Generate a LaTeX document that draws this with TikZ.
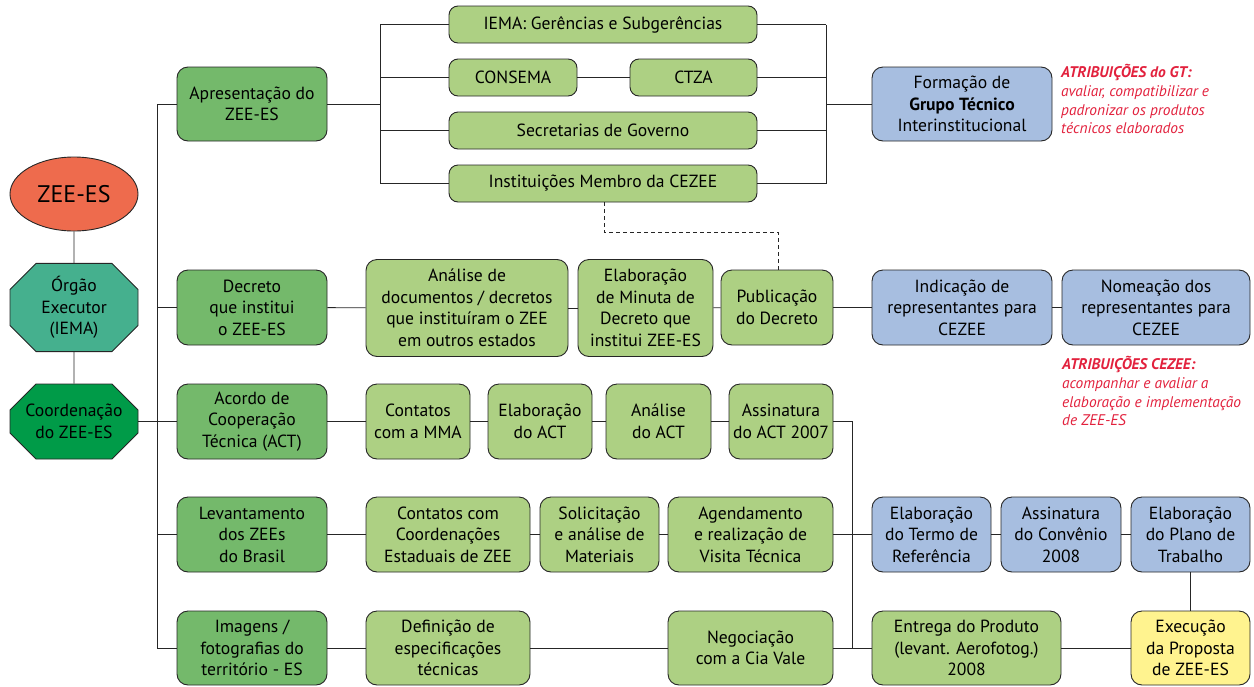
\documentclass[tikz,border=0pt]{standalone}
\usepackage{fontspec}
\setmainfont{PT Sans}
\usetikzlibrary{shapes.geometric,shapes.misc}
\definecolor{cOrange}{HTML}{EE6B4D}
\definecolor{cTeal}{HTML}{45B08E}
\definecolor{cDark}{HTML}{009B48}
\definecolor{cMid}{HTML}{74B96B}
\definecolor{cLight}{HTML}{ADD083}
\definecolor{cBlue}{HTML}{A7BEE0}
\definecolor{cYellow}{HTML}{FFF38F}
\definecolor{cRed}{HTML}{E2213D}
\newcommand{\fsMain}{\fontsize{17.6}{21.5}\selectfont}
\begin{document}
\begin{tikzpicture}[x=1pt,y=-1pt,
  base/.style={draw=black!85, line width=0.9pt, align=center, inner sep=0pt, font=\fsMain, text=black},
  box/.style={base, rounded corners=11pt},
  mid/.style={box, fill=cMid},
  light/.style={box, fill=cLight},
  blue/.style={box, fill=cBlue},
  yel/.style={box, fill=cYellow},
  octo/.style={base, chamfered rectangle, chamfered rectangle xsep=13pt, chamfered rectangle ysep=13pt, minimum width=128pt, minimum height=75pt},
  wh/.style 2 args={minimum width=#1pt, minimum height=#2pt},
  ln/.style={draw=black!85, line width=0.9pt},
  redtxt/.style={text=cRed, align=left, anchor=north west, inner sep=0pt, font=\fontsize{15.4}{18.8}\selectfont\itshape}
]
\useasboundingbox (0,0) rectangle (1254,686);

% left column
\node[base, ellipse, fill=cOrange, wh={128}{74}, font=\fontsize{24}{28}\selectfont] (zee) at (74,194) {ZEE-ES};
\node[octo, fill=cTeal] (org) at (74,307.5) {Órgão\\Executor\\(IEMA)};
\node[octo, fill=cDark] (coord) at (74,421.5) {Coordenação\\do ZEE-ES};

% second column
\node[mid, wh={150}{74}] (apr) at (252,104) {Apresentação do\\ZEE-ES};
\node[mid, wh={150}{75}] (dec) at (252,307.5) {Decreto\\que institui\\o ZEE-ES};
\node[mid, wh={150}{75}] (aco) at (252,421.5) {Acordo de\\Cooperação\\Técnica (ACT)};
\node[mid, wh={150}{75}] (lev) at (252,534.5) {Levantamento\\dos ZEEs\\do Brasil};
\node[mid, wh={150}{74}] (img) at (252,648) {Imagens /\\fotografias do\\território - ES};

% Apresentacao group
\node[light, wh={308}{37}, rounded corners=9pt] (iema) at (603,24.5) {IEMA: Gerências e Subgerências};
\node[light, wh={128}{37}, rounded corners=9pt] (consema) at (513,77.5) {CONSEMA};
\node[light, wh={127}{37}, rounded corners=9pt] (ctza) at (693.5,77.5) {CTZA};
\node[light, wh={308}{37}, rounded corners=9pt] (sec) at (603,130.5) {Secretarias de Governo};
\node[light, wh={308}{37}, rounded corners=9pt] (inst) at (603,183.5) {Instituições Membro da CEZEE};
\node[blue, wh={180}{74}] (form) at (962,104) {Formação de\\\textbf{Grupo Técnico}\\Interinstitucional};
\node[redtxt] (gt) at (1061,64) {\textbf{ATRIBUIÇÕES do GT:}\\avaliar, compatibilizar e\\padronizar os produtos\\técnicos elaborados};

% Decreto row
\node[light, wh={202}{97}] (anal) at (467,308) {Análise de\\documentos / decretos\\que instituíram o ZEE\\em outros estados};
\node[light, wh={135}{97}] (elab) at (645.5,308) {Elaboração\\de Minuta de\\Decreto que\\institui ZEE-ES};
\node[light, wh={112}{75}] (pub) at (777,307.5) {Publicação\\do Decreto};
\node[blue, wh={180}{75}] (ind) at (962,307.5) {Indicação de\\representantes para\\CEZEE};
\node[blue, wh={188}{75}] (nom) at (1156,307.5) {Nomeação dos\\representantes para\\CEZEE};
\node[redtxt] (cz) at (1062,356) {\textbf{ATRIBUIÇÕES CEZEE:}\\acompanhar e avaliar a\\elaboração e implementação\\de ZEE-ES};

% Acordo row
\node[light, wh={104}{75}] (mma) at (418,421.5) {Contatos\\com a MMA};
\node[light, wh={104}{75}] (eact) at (540,421.5) {Elaboração\\do ACT};
\node[light, wh={105}{75}] (aact) at (658.5,421.5) {Análise\\do ACT};
\node[light, wh={104}{75}] (sact) at (781,421.5) {Assinatura\\do ACT 2007};

% Levantamento row
\node[light, wh={164}{75}] (ccoord) at (448,534.5) {Contatos com\\Coordenações\\Estaduais de ZEE};
\node[light, wh={119}{75}] (sol) at (599.5,534.5) {Solicitação\\e análise de\\Materiais};
\node[light, wh={165}{75}] (age) at (750.5,534.5) {Agendamento\\e realização de\\Visita Técnica};
\node[blue, wh={119}{75}] (termo) at (931.5,534.5) {Elaboração\\do Termo de\\Referência};
\node[blue, wh={120}{75}] (conv) at (1061,534.5) {Assinatura\\do Convênio\\2008};
\node[blue, wh={119}{75}] (plano) at (1190.5,534.5) {Elaboração\\do Plano de\\Trabalho};

% Imagens row
\node[light, wh={164}{74}] (def) at (448,648) {Definição de\\especificações\\técnicas};
\node[light, wh={165}{74}] (neg) at (750.5,648) {Negociação\\com a Cia Vale};
\node[light, wh={189}{74}] (ent) at (966.5,648) {Entrega do Produto\\(levant. Aerofotog.)\\2008};
\node[yel, wh={119}{74}] (exe) at (1190.5,648) {Execução\\da Proposta\\de ZEE-ES};

% coordinates
\coordinate (tTop) at (157,104);
\coordinate (tBot) at (157,648);
\coordinate (aL) at (380,104);
\coordinate (aR) at (826,104);
\coordinate (vTop) at (852,421.5);
\coordinate (vBot) at (852,648);
\coordinate (d1) at (604,232);
\coordinate (d2) at (778,232);

% connectors left
\draw[ln] (zee) -- (org);
\draw[ln] (org) -- (coord);
\draw[ln] (coord.east) -- (coord.east -| tTop);
\draw[ln] (tTop) -- (tBot);
\foreach \n in {apr,dec,aco,lev,img} \draw[ln] (\n.west) -- (\n.west -| tTop);

% Apresentacao group
\draw[ln] (apr.east) -- (aL);
\draw[ln] (iema.west -| aL) -- (inst.west -| aL);
\draw[ln] (iema.east -| aR) -- (inst.east -| aR);
\foreach \n in {iema,consema,sec,inst} \draw[ln] (\n.west) -- (\n.west -| aL);
\foreach \n in {iema,ctza,sec,inst} \draw[ln] (\n.east) -- (\n.east -| aR);
\draw[ln] (consema) -- (ctza);
\draw[ln] (aR) -- (form.west);

% dashed
\draw[ln, dash pattern=on 4pt off 3pt] (inst.south -| d1) -- (d1) -- (d2) -- (pub.north -| d2);

% rows
\draw[ln] (dec) -- (anal);
\draw[ln] (anal) -- (elab);
\draw[ln] (elab) -- (pub);
\draw[ln] (pub) -- (ind);
\draw[ln] (ind) -- (nom);

\draw[ln] (aco) -- (mma);
\draw[ln] (mma) -- (eact);
\draw[ln] (eact) -- (aact);
\draw[ln] (aact) -- (sact);
\draw[ln] (sact.east) -- (vTop) -- (vBot);

\draw[ln] (lev) -- (ccoord);
\draw[ln] (ccoord) -- (sol);
\draw[ln] (sol) -- (age);
\draw[ln] (age) -- (termo);
\draw[ln] (termo) -- (conv);
\draw[ln] (conv) -- (plano);
\draw[ln] (plano) -- (exe);

\draw[ln] (img) -- (def);
\draw[ln] (def) -- (neg);
\draw[ln] (neg) -- (ent);
\draw[ln] (ent) -- (exe);
\end{tikzpicture}
\end{document}
